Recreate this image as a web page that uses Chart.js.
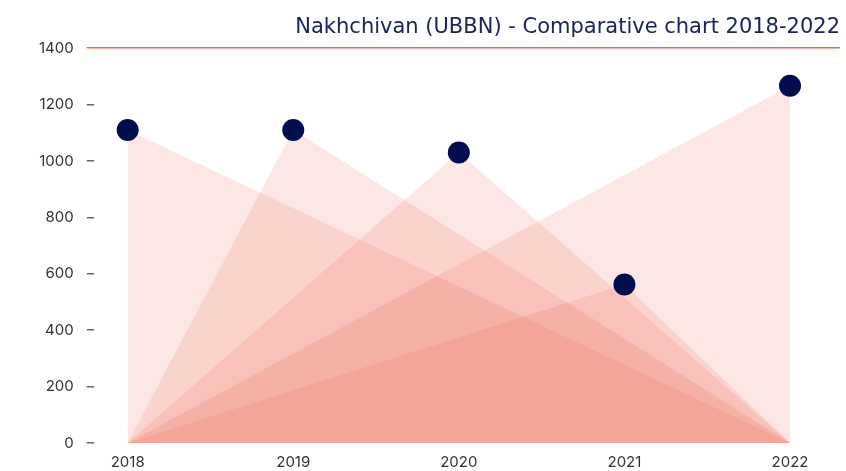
<!DOCTYPE html>
<html>
<head>
<meta charset="utf-8">
<script src="https://cdn.jsdelivr.net/npm/chart.js@4/dist/chart.umd.min.js"></script>
<style>
  html, body { margin: 0; padding: 0; background: #fff; }
  #wrap { position: relative; width: 846px; height: 471px; }
</style>
</head>
<body>
<div id="wrap"><canvas id="chart"></canvas></div>
<script>
// chart values
const years = [2018, 2019, 2020, 2021, 2022];
const passengers = [1110, 1110, 1030, 562, 1267];
const yTicks = [0, 200, 400, 600, 800, 1000, 1200, 1400];

const navy = '#020d4f';
const salmon = '#f7624c';
const fillColor = 'rgba(236, 82, 64, 0.14)';

// one triangle per year: first year at 0 -> that year's value -> last year at 0
const datasets = years.map((yr, i) => ({
    label: String(yr),
    data: [
        { x: years[0], y: 0 },
        { x: yr, y: passengers[i] },
        { x: years[years.length - 1], y: 0 }
    ],
    fill: 'origin',
    backgroundColor: fillColor,
    borderWidth: 0,
    borderColor: 'transparent',
    tension: 0,
    pointRadius: [0, 11, 0],
    pointHoverRadius: [0, 11, 0],
    pointBackgroundColor: navy,
    pointBorderWidth: 0
}));

const isTop = (ctx) => ctx.index === yTicks.length - 1;

new Chart(document.getElementById('chart'), {
    type: 'line',
    data: { datasets },
    options: {
        responsive: true,
        maintainAspectRatio: false,
        animation: false,
        layout: { padding: { left: 26, right: 6, top: 0, bottom: -2 } },
        plugins: {
            legend: { display: false },
            tooltip: { enabled: false },
            filler: { drawTime: 'beforeDatasetsDraw' },
            title: {
                display: true,
                text: 'Nakhchivan (UBBN) - Comparative chart 2018-2022',
                align: 'end',
                color: '#1c2360',
                font: { family: "'DejaVu Sans'", size: 21, weight: 'normal' },
                padding: { top: 15, bottom: 8 }
            }
        },
        scales: {
            x: {
                type: 'linear',
                min: 2017.795,
                max: 2022.302,
                afterBuildTicks: (scale) => { scale.ticks = years.map(v => ({ value: v })); },
                grid: { display: false },
                border: { display: false },
                ticks: {
                    color: '#333',
                    font: { family: 'Inter', size: 15 },
                    padding: 2,
                    callback: (v) => String(v)
                }
            },
            y: {
                min: 0,
                max: 1400,
                afterBuildTicks: (scale) => { scale.ticks = yTicks.map(v => ({ value: v })); },
                border: { display: false },
                grid: {
                    drawOnChartArea: true,
                    tickLength: 7,
                    lineWidth: 1.5,
                    color: (ctx) => isTop(ctx) ? salmon : 'rgba(0,0,0,0)',
                    tickColor: (ctx) => isTop(ctx) ? salmon : '#666'
                },
                ticks: {
                    color: '#333',
                    font: { family: 'Inter', size: 15 },
                    padding: 13,
                    callback: (v) => String(v)
                }
            }
        }
    }
});
</script>
</body>
</html>
